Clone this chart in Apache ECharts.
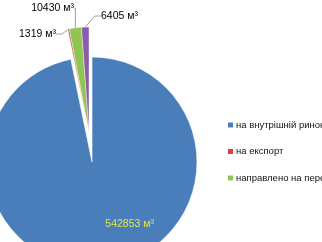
<!DOCTYPE html>
<html><head><meta charset="utf-8">
<script src="https://cdn.jsdelivr.net/npm/echarts@6/dist/echarts.min.js"></script>
<style>html,body{margin:0;padding:0;background:#fff}#c{width:322px;height:242px}</style>
</head><body><div id="c"></div>
<script>
var categories = ['на внутрішній ринок', 'на експорт', 'направлено на переробку', 'інше'];
var values = [542853, 1319, 10430, 6405];
var colors = ['#4A7EBB', '#D9403A', '#8DC650', '#8B5CAB'];
var legendNames = categories.slice(0, 3);

// label anchors for the exploded slices: [x, y, align]
var labelPos = {1: [56, 34, 'right'], 2: [74, 8, 'right'], 3: [101, 16, 'left']};

function fmt(p) { return p.value + ' м³'; }

function buildData(visibleMain) {
  return categories.map(function (n, i) {
    var isMain = i === 0;
    var show = visibleMain ? isMain : !isMain;
    var d = {name: n, value: values[i]};
    if (show) {
      d.itemStyle = {color: colors[i]};
    } else {
      d.itemStyle = {color: 'rgba(0,0,0,0)', borderWidth: 0};
      d.label = {show: false};
      d.labelLine = {show: false};
      d.emphasis = {disabled: true};
    }
    return d;
  });
}

var chart = echarts.init(document.getElementById('c'), null, {renderer: 'canvas'});
chart.setOption({
  animation: false,
  legend: {
    data: legendNames.map(function (n, i) {
      return {name: n, itemStyle: {color: colors[i], opacity: 1, borderWidth: 0}};
    }),
    orient: 'vertical',
    left: 228, top: 120,
    padding: 0,
    itemWidth: 5, itemHeight: 5, itemGap: 16.5,
    icon: 'rect',
    selectedMode: false,
    textStyle: {fontSize: 9.5, color: '#111', fontFamily: 'Liberation Sans', padding: [0, 0, 0, -2]}
  },
  series: [{
    type: 'pie',
    center: [92, 162],
    radius: 105,
    startAngle: 90,
    clockwise: true,
    avoidLabelOverlap: false,
    itemStyle: {borderColor: '#fff', borderWidth: 0.6},
    label: {
      show: true, position: 'inside', formatter: fmt,
      color: '#E3E63A', fontSize: 10.5, fontFamily: 'Liberation Sans'
    },
    labelLayout: function (p) { return p.dataIndex === 0 ? {dx: 32, dy: 7} : {}; },
    data: buildData(true)
  }, {
    type: 'pie',
    center: [89, 132],
    radius: 105,
    startAngle: 90,
    clockwise: true,
    avoidLabelOverlap: false,
    itemStyle: {borderColor: '#fff', borderWidth: 0.4},
    label: {
      show: true, position: 'outside', formatter: fmt,
      fontSize: 10.5, color: '#000', fontFamily: 'Liberation Sans'
    },
    labelLine: {show: true, length: 6, length2: 6, lineStyle: {color: '#888', width: 0.8}},
    labelLayout: function (p) {
      var l = labelPos[p.dataIndex];
      if (!l) return {};
      return {x: l[0], y: l[1], align: l[2], verticalAlign: 'middle'};
    },
    data: buildData(false)
  }]
});
</script></body></html>
